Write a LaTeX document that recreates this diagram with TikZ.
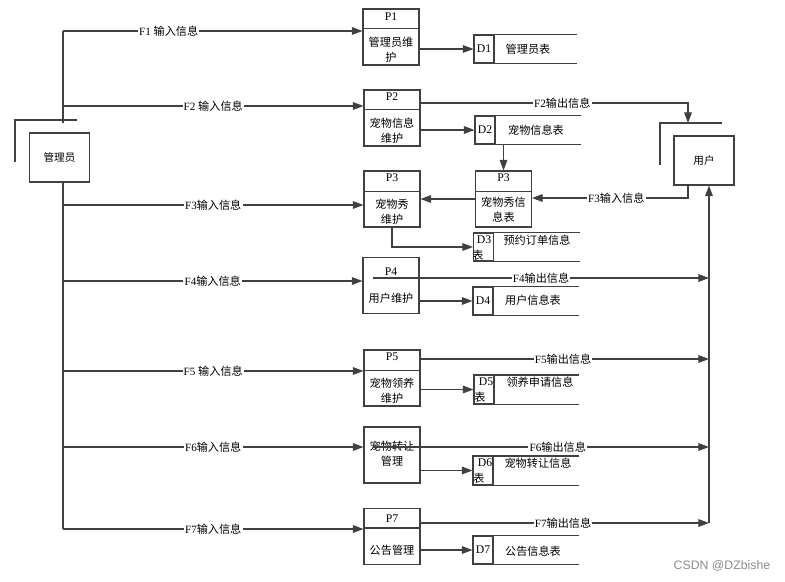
\documentclass[tikz,border=0pt]{standalone}
\usepackage{fontspec}
\setmainfont{Liberation Serif}
\newfontfamily\zhfont{Noto Sans CJK SC}
\newfontfamily\wmfont{Liberation Sans}
\newcommand{\zh}[1]{{\zhfont #1}}
\usetikzlibrary{arrows.meta}

\tikzset{
  line/.style={draw=black!75, line width=0.9pt},
  flow/.style={line, -{Triangle[length=9pt,width=6.5pt]}},
  proc/.style={line, minimum width=1.68cm, minimum height=1.68cm, inner sep=0pt},
  dbox/.style={line, minimum width=0.6cm, minimum height=0.84cm, inner sep=0pt, font=\fontsize{10}{12}\selectfont},
  ent/.style={line, minimum width=1.8cm, minimum height=1.47cm, inner sep=0pt, font=\fontsize{9}{11}\selectfont\zhfont},
  txt/.style={inner sep=0pt, font=\fontsize{9.5}{12.5}\selectfont\zhfont, align=center},
  hdr/.style={inner sep=0pt, font=\fontsize{10}{12}\selectfont},
  lbl/.style={fill=white, inner sep=1pt, font=\fontsize{9.5}{11}\selectfont},
}

\begin{document}
\begin{tikzpicture}[x=0.03cm, y=-0.03cm]
  \useasboundingbox (0,0) rectangle (785,581);
  % External entities
  \node[ent] (admin) at (59.5,157.5) {管理员};
  \draw[line] (15,162) -- (15,120) -- (77,120);
  \node[ent] (user) at (704,160.5) {用户};
  \coordinate (ushd) at (660,123);
  \draw[line] (660,165) -- (ushd) -- (722,123);
  % Processes
  \node[proc] (p1)  at (391,37)    {};
  \node[proc] (p2)  at (392,118)   {};
  \node[proc] (p3a) at (392,199)   {};
  \node[proc] (p3b) at (503.5,199) {};
  \node[proc] (p4)  at (391,285.5) {};
  \node[proc] (p5)  at (392,378)   {};
  \node[proc] (p6)  at (392,455)   {};
  \node[proc] (p7)  at (392,536.5) {};
  % Process headers and dividers
  \draw[line] (p1.north west)  ++(0,20) -- ++(56,0);
  \draw[line] (p2.north west)  ++(0,20) -- ++(56,0);
  \draw[line] (p3a.north west) ++(0,21) -- ++(56,0);
  \draw[line] (p3b.north west) ++(0,21) -- ++(56,0);
  \draw[line] (p5.north west)  ++(0,21) -- ++(56,0);
  \draw[line] (p7.north west)  ++(0,20) -- ++(56,0);
  \node[hdr] (p1h)  at (391,17)    {P1};
  \node[hdr] (p2h)  at (392,97)    {P2};
  \node[hdr] (p3ah) at (392,178)   {P3};
  \node[hdr] (p3bh) at (503.5,178) {P3};
  \node[hdr] (p4h)  at (391,272)   {P4};
  \node[hdr] (p5h)  at (392,357)   {P5};
  \node[hdr] (p7h)  at (392,519)   {P7};
  \node[txt] (p1t)  at (391,50)    {管理员维\\护};
  \node[txt] (p2t)  at (392,131)   {宠物信息\\维护};
  \node[txt] (p3at) at (392,212)   {宠物秀\\维护};
  \node[txt] (p3bt) at (503.5,210) {宠物秀信\\息表};
  \node[txt] (p4t)  at (391,298)   {用户维护};
  \node[txt] (p5t)  at (392,391)   {宠物领养\\维护};
  \node[txt] (p6t)  at (392,454)   {宠物转让\\管理};
  \node[txt] (p7t)  at (392,550)   {公告管理};
  % Data stores
  \node[dbox] (d1) at (484,49)    {D1};
  \node[dbox] (d2) at (485,130)   {D2};
  \node[dbox] (d3) at (483.5,247) {};
  \node[dbox] (d4) at (483,301)   {D4};
  \node[dbox] (d5) at (484,389.5) {};
  \node[dbox] (d6) at (483,470.5) {};
  \node[dbox] (d7) at (483,550)   {D7};
  \draw[line] (d1.north west) -- ++(104,0) (d1.south west) -- ++(104,0);
  \draw[line] (d2.north west) -- ++(107,0) (d2.south west) -- ++(107,0);
  \draw[line] (d3.north west) -- ++(107,0) (d3.south west) -- ++(107,0);
  \draw[line] (d4.north west) -- ++(107,0) (d4.south west) -- ++(107,0);
  \draw[line] (d5.north west) -- ++(106,0) (d5.south west) -- ++(106,0);
  \draw[line] (d6.north west) -- ++(107,0) (d6.south west) -- ++(107,0);
  \draw[line] (d7.north west) -- ++(107,0) (d7.south west) -- ++(107,0);
  \node[hdr] (d3h) at (484,240) {D3};
  \node[txt] (d3x) at (478,255) {表};
  \node[hdr] (d5h) at (486,382) {D5};
  \node[txt] (d5x) at (480,397) {表};
  \node[hdr] (d6h) at (485,463) {D6};
  \node[txt] (d6x) at (479,478) {表};
  \node[txt] (d1t) at (528,49)  {管理员表};
  \node[txt] (d2t) at (536,130) {宠物信息表};
  \node[txt] (d3t) at (537,240) {预约订单信息};
  \node[txt] (d4t) at (533,300) {用户信息表};
  \node[txt] (d5t) at (540,382) {领养申请信息};
  \node[txt] (d6t) at (538,463) {宠物转让信息};
  \node[txt] (d7t) at (533,551) {公告信息表};
  % Left trunk and input flows
  \coordinate (in1) at (63,31);
  \coordinate (in2) at (63,106);
  \coordinate (in3) at (63,205);
  \coordinate (in4) at (63,281);
  \coordinate (in5) at (63,371);
  \coordinate (in6) at (63,447);
  \coordinate (in7) at (63,529);
  \draw[line] (in1) -- (in1 |- ushd) (in1 |- admin.south) -- (in7);
  \draw[line] (15,120) -- (77,120);
  \draw[flow] (in1) -- node[lbl, pos=0.353] {F1 \zh{输入信息}} (p1.west |- in1);
  \draw[flow] (in2) -- node[lbl] {F2 \zh{输入信息}} (p2.west |- in2);
  \draw[flow] (in3) -- node[lbl] {F3\zh{输入信息}} (p3a.west |- in3);
  \draw[flow] (in4) -- node[lbl] {F4\zh{输入信息}} (p4.west |- in4);
  \draw[flow] (in5) -- node[lbl] {F5 \zh{输入信息}} (p5.west |- in5);
  \draw[flow] (in6) -- node[lbl] {F6\zh{输入信息}} (p6.west |- in6);
  \draw[flow] (in7) -- node[lbl] {F7\zh{输入信息}} (p7.west |- in7);
  % Process to store
  \draw[flow] (p1.east |- d1) -- (d1);
  \draw[flow] (p2.east |- d2) -- (d2);
  \draw[flow] (p3a.south) |- (d3);
  \draw[flow] (p4.east |- d4) -- (d4);
  \draw[flow] (p5.east |- d5) -- (d5);
  \draw[flow] (p6.east |- d6) -- (d6);
  \draw[flow] (p7.east |- d7) -- (d7);
  % P3 pair
  \draw[flow] (p3b.north |- d2.south) -- (p3b.north);
  \draw[flow] (p3b.west) -- (p3a.east);
  \coordinate (i3) at (688,198);
  \draw[flow] (user.south -| i3) -- (i3) -- node[lbl, pos=0.46] {F3\zh{输入信息}} (p3b.east |- i3);
  % Output flows to user
  \coordinate (o2) at (688,103);
  \draw[flow] (p2.east |- o2) -- node[lbl, pos=0.53] {F2\zh{输出信息}} (o2) -- (o2 |- ushd);
  \coordinate (rbot) at (709,523);
  \draw[flow] (rbot) -- (rbot |- user.south);
  \coordinate (o4) at (373,278);
  \coordinate (o5) at (420,359);
  \coordinate (o6) at (373,447);
  \coordinate (o7) at (420,523);
  \draw[flow] (o4) -- node[lbl, pos=0.5] {F4\zh{输出信息}} (rbot |- o4);
  \draw[flow] (o5) -- node[lbl, pos=0.495] {F5\zh{输出信息}} (rbot |- o5);
  \draw[flow] (o6) -- node[lbl, pos=0.55] {F6\zh{输出信息}} (rbot |- o6);
  \draw[flow] (o7) -- node[lbl, pos=0.495] {F7\zh{输出信息}} (rbot);
  % Watermark
  \node[text=black!45, font=\fontsize{10.5}{12}\selectfont\wmfont] (wm) at (722,566) {CSDN @DZbishe};
\end{tikzpicture}
\end{document}
